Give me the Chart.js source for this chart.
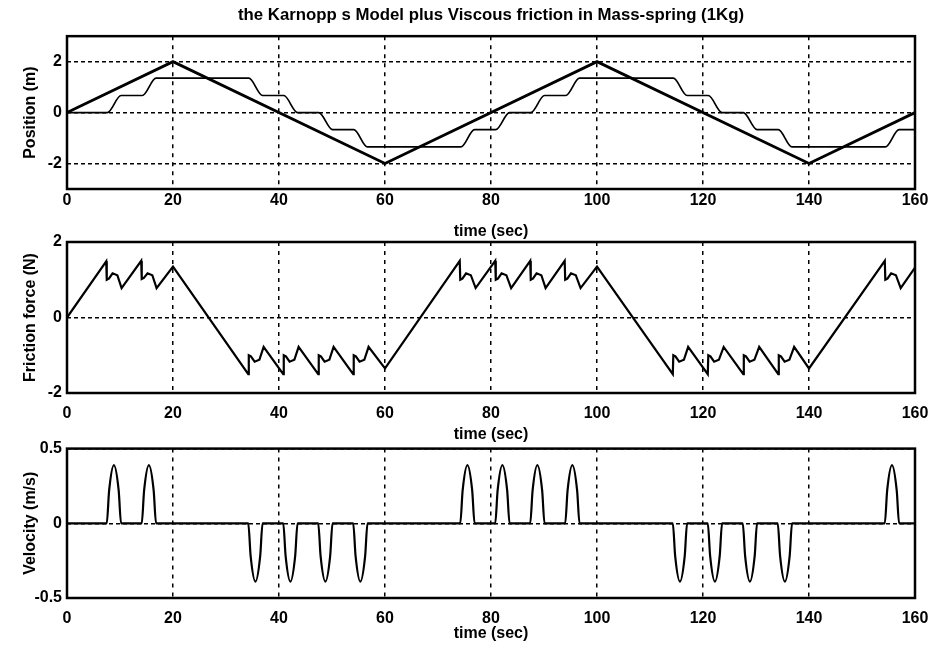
<!DOCTYPE html>
<html>
<head>
<meta charset="utf-8">
<script src="https://cdn.jsdelivr.net/npm/chart.js@4/dist/chart.umd.min.js"></script>
<style>
  body { margin: 0; background: #fff; }
  #wrap { position: relative; width: 937px; height: 650px; background: #fff; }
  #wrap canvas { position: absolute; left: 0; }
</style>
</head>
<body>
<div id="wrap">
  <canvas id="posChart" width="937" height="242" style="top:0px"></canvas>
  <canvas id="fricChart" width="937" height="224" style="top:222px"></canvas>
  <canvas id="velChart" width="937" height="216" style="top:434px"></canvas>
</div>
<script>
// time axis
var timeTicks = [0, 20, 40, 60, 80, 100, 120, 140, 160];

// reference (triangle) position input
var refT   = [0, 20, 60, 100, 140, 160];
var refPos = [0, 2, -2, 2, -2, 0];

// mass position: stick-slip staircase
var massT   = [0, 7.6, 10.2, 14.2, 16.8, 34.3, 36.9, 40.9, 43.5, 47.5, 50.1, 54.1, 56.7,
               74.3, 76.9, 80.9, 83.5, 87.5, 90.1, 94.1, 96.7,
               114.4, 117.0, 121.0, 123.6, 127.6, 130.2, 134.2, 136.8, 154.4, 157.0, 160];
var massPos = [0, 0, 0.67, 0.67, 1.35, 1.35, 0.67, 0.67, 0, 0, -0.67, -0.67, -1.35,
               -1.35, -0.67, -0.67, 0, 0, 0.67, 0.67, 1.35,
               1.35, 0.67, 0.67, 0, 0, -0.67, -0.67, -1.35, -1.35, -0.67, -0.67];

// friction force (N)
var fricT = [0, 7.4, 7.5, 7.9, 8.6, 9.5, 10.3,
             14.0, 14.1, 14.5, 15.2, 16.1, 16.9,
             20,
             34.2, 34.3, 34.7, 35.4, 36.3, 37.1,
             40.8, 40.9, 41.3, 42.0, 42.9, 43.7,
             47.4, 47.5, 47.9, 48.6, 49.5, 50.3,
             54.0, 54.1, 54.5, 55.2, 56.1, 56.9,
             60,
             74.1, 74.2, 74.6, 75.3, 76.2, 77.1,
             80.8, 80.9, 81.3, 82.0, 82.9, 83.8,
             87.4, 87.5, 87.9, 88.6, 89.5, 90.3,
             93.9, 94.0, 94.4, 95.1, 96.0, 96.9,
             100,
             114.3, 114.4, 114.8, 115.5, 116.4, 117.2,
             120.9, 121.0, 121.4, 122.1, 123.0, 123.9,
             127.6, 127.7, 128.1, 128.8, 129.7, 130.6,
             134.2, 134.3, 134.7, 135.4, 136.3, 137.2,
             140,
             154.3, 154.4, 154.8, 155.5, 156.4, 157.3,
             160];
var fricF = [0, 1.49, 1.0, 1.03, 1.17, 1.12, 0.78,
             1.5, 1.02, 1.05, 1.17, 1.12, 0.78,
             1.35,
             -1.5, -1.0, -1.03, -1.17, -1.12, -0.78,
             -1.5, -1.0, -1.03, -1.17, -1.12, -0.78,
             -1.5, -1.0, -1.03, -1.17, -1.12, -0.78,
             -1.5, -1.0, -1.03, -1.17, -1.12, -0.78,
             -1.35,
             1.5, 1.0, 1.03, 1.17, 1.12, 0.78,
             1.5, 1.0, 1.03, 1.17, 1.12, 0.78,
             1.5, 1.0, 1.03, 1.17, 1.12, 0.78,
             1.5, 1.0, 1.03, 1.17, 1.12, 0.78,
             1.35,
             -1.5, -1.0, -1.03, -1.17, -1.12, -0.78,
             -1.5, -1.0, -1.03, -1.17, -1.12, -0.78,
             -1.5, -1.0, -1.03, -1.17, -1.12, -0.78,
             -1.5, -1.0, -1.03, -1.17, -1.12, -0.78,
             -1.35,
             1.5, 1.0, 1.03, 1.17, 1.12, 0.78,
             1.32];

// velocity (m/s): slip pulses
var velT = [0,
            7.5, 7.95, 8.85, 9.75, 10.2,
            14.1, 14.55, 15.45, 16.35, 16.8,
            34.2, 34.65, 35.55, 36.45, 36.9,
            40.8, 41.25, 42.15, 43.05, 43.5,
            47.4, 47.85, 48.75, 49.65, 50.1,
            54.0, 54.45, 55.35, 56.25, 56.7,
            74.2, 74.65, 75.55, 76.45, 76.9,
            80.8, 81.25, 82.15, 83.05, 83.5,
            87.4, 87.85, 88.75, 89.65, 90.1,
            94.0, 94.45, 95.35, 96.25, 96.7,
            114.3, 114.75, 115.65, 116.55, 117.0,
            120.9, 121.35, 122.25, 123.15, 123.6,
            127.5, 127.95, 128.85, 129.75, 130.2,
            134.1, 134.55, 135.45, 136.35, 136.8,
            154.3, 154.75, 155.65, 156.55, 157.0,
            160];
var velV = [0,
            0, 0.22, 0.39, 0.22, 0,
            0, 0.22, 0.39, 0.22, 0,
            0, -0.22, -0.39, -0.22, 0,
            0, -0.22, -0.39, -0.22, 0,
            0, -0.22, -0.39, -0.22, 0,
            0, -0.22, -0.39, -0.22, 0,
            0, 0.22, 0.39, 0.22, 0,
            0, 0.22, 0.39, 0.22, 0,
            0, 0.22, 0.39, 0.22, 0,
            0, 0.22, 0.39, 0.22, 0,
            0, -0.22, -0.39, -0.22, 0,
            0, -0.22, -0.39, -0.22, 0,
            0, -0.22, -0.39, -0.22, 0,
            0, -0.22, -0.39, -0.22, 0,
            0, 0.22, 0.39, 0.22, 0,
            0];

function pts(xs, ys) {
    return xs.map(function (x, i) { return { x: x, y: ys[i] }; });
}

Chart.defaults.font.family = '"Liberation Sans", Arial, sans-serif';
Chart.defaults.font.size = 16;
Chart.defaults.font.weight = 'bold';
Chart.defaults.color = '#000';

// frame round the plot area
var boxPlugin = {
    id: 'box',
    afterDraw: function (chart) {
        var ctx = chart.ctx, a = chart.chartArea;
        ctx.save();
        ctx.strokeStyle = '#000';
        ctx.lineWidth = 2.5;
        ctx.strokeRect(a.left, a.top, a.right - a.left, a.bottom - a.top);
        ctx.restore();
    }
};

function makePanel(id, cfg) {
    return new Chart(document.getElementById(id), {
        type: 'line',
        data: { datasets: cfg.datasets },
        options: {
            responsive: false,
            animation: false,
            devicePixelRatio: 1,
            layout: { padding: { top: cfg.padTop, right: 22, bottom: 0, left: 0 } },
            elements: { point: { radius: 0 }, line: { borderColor: '#000' } },
            plugins: {
                legend: { display: false },
                tooltip: { enabled: false },
                title: cfg.title || { display: false }
            },
            scales: {
                x: {
                    type: 'linear',
                    min: 0,
                    max: 160,
                    afterBuildTicks: function (s) { s.ticks = timeTicks.map(function (v) { return { value: v }; }); },
                    afterFit: function (s) {
                        // keep every panel's plot area the same width
                        s.height = cfg.xHeight;
                        s.paddingLeft = 0;
                        s.paddingRight = 0;
                    },
                    grid: { color: '#000', lineWidth: 1.5, drawTicks: false },
                    border: { display: false, dash: [4, 5] },
                    ticks: { padding: cfg.xTickPad, maxRotation: 0, autoSkip: false },
                    title: { display: true, text: 'time (sec)', padding: { top: 0, bottom: cfg.xTitlePad } }
                },
                y: {
                    type: 'linear',
                    min: cfg.yMin,
                    max: cfg.yMax,
                    afterBuildTicks: function (s) { s.ticks = cfg.yTicks.map(function (v) { return { value: v }; }); },
                    afterFit: function (s) { s.width = 67; },
                    grid: { color: '#000', lineWidth: 1.5, drawTicks: false },
                    border: { display: false, dash: [4, 3] },
                    ticks: { padding: 5 },
                    title: { display: true, text: cfg.yLabel, padding: { top: 21, bottom: 0 } }
                }
            }
        },
        plugins: [boxPlugin]
    });
}

makePanel('posChart', {
    padTop: 0,
    xHeight: 53,
    xTickPad: 2,
    xTitlePad: 1,
    yMin: -3, yMax: 3, yTicks: [-2, 0, 2],
    yLabel: 'Position (m)',
    title: {
        display: true,
        text: 'the Karnopp s Model plus Viscous friction in Mass-spring (1Kg)',
        fullSize: false,
        font: { size: 16.8, weight: 'bold' },
        padding: { top: 5, bottom: 11 }
    },
    datasets: [
        { data: pts(refT, refPos), borderWidth: 2.8, tension: 0 },
        { data: pts(massT, massPos), borderWidth: 1.7, cubicInterpolationMode: 'monotone' }
    ]
});

makePanel('fricChart', {
    padTop: 20,
    xHeight: 53,
    xTickPad: 11,
    xTitlePad: 2,
    yMin: -2, yMax: 2, yTicks: [-2, 0, 2],
    yLabel: 'Friction force (N)',
    datasets: [
        { data: pts(fricT, fricF), borderWidth: 2.2, tension: 0 }
    ]
});

makePanel('velChart', {
    padTop: 11,
    xHeight: 52,
    xTickPad: 11,
    xTitlePad: 7,
    yMin: -0.5, yMax: 0.5, yTicks: [-0.5, 0, 0.5],
    yLabel: 'Velocity (m/s)',
    datasets: [
        { data: pts(velT, velV), borderWidth: 2.2, cubicInterpolationMode: 'monotone' }
    ]
});
</script>
</body>
</html>
